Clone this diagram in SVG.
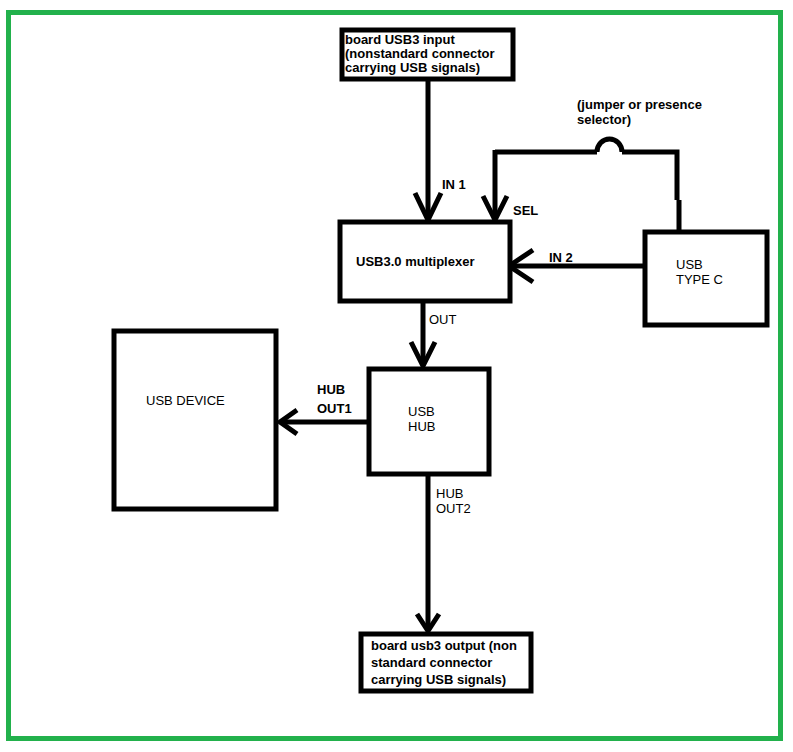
<svg xmlns="http://www.w3.org/2000/svg" width="793" height="752" viewBox="0 0 793 752">
<style>
.box{fill:#fff;stroke:#000;stroke-width:5}
.ln{fill:none;stroke:#000;stroke-width:5}
.ah{fill:none;stroke:#000;stroke-width:5;stroke-linecap:butt}
text{font-family:"Liberation Sans",Arial,sans-serif;font-size:13px;fill:#000}
.b{font-weight:bold}
</style>
<rect x="0" y="0" width="793" height="752" fill="#fff"/>
<rect x="8.5" y="12.5" width="772" height="726" fill="none" stroke="#22b14c" stroke-width="5"/>
<g id="connectors">
  <path class="ln" d="M428 80 V218"/>
  <path class="ah" d="M415 193 L428 220 L441 193"/>
  <text class="b" x="442" y="189">IN 1</text>
  <path class="ln" d="M495 152 H597 M622 152 H677 V200 M679 200 V232"/>
  <path class="ln" d="M597 152 A12.5 13 0 0 1 622 152"/>
  <path class="ln" d="M495 150 V218"/>
  <path class="ah" d="M483 196 L495 220 L507 196"/>
  <text class="b" x="513" y="215">SEL</text>
  <text class="b" x="577" y="109">(jumper or presence</text>
  <text class="b" x="577" y="124">selector)</text>
  <path class="ln" d="M645 266 H510"/>
  <path class="ah" d="M533 250 L509 266 L533 282"/>
  <text class="b" x="549" y="262">IN 2</text>
  <path class="ln" d="M423 300 V365"/>
  <path class="ah" d="M411 342 L423 366 L435 342"/>
  <text x="429" y="324">OUT</text>
  <path class="ln" d="M367 422 H280"/>
  <path class="ah" d="M297 410 L280 422 L297 434"/>
  <text class="b" x="317" y="394">HUB</text>
  <text class="b" x="317" y="413">OUT1</text>
  <path class="ln" d="M428 474 V630"/>
  <path class="ah" d="M417 614 L428 631 L439 614"/>
  <text x="436" y="498">HUB</text>
  <text x="436" y="513">OUT2</text>
</g>
<g id="input">
  <rect class="box" x="342" y="30" width="171" height="49"/>
  <text class="b" x="345" y="44">board USB3 input</text>
  <text class="b" x="345" y="58">(nonstandard connector</text>
  <text class="b" x="345" y="72">carrying USB signals)</text>
</g>
<g id="mux">
  <rect class="box" x="340" y="222" width="170" height="79"/>
  <text class="b" x="356" y="266">USB3.0 multiplexer</text>
</g>
<g id="typec">
  <rect class="box" x="645" y="232" width="122" height="93"/>
  <text x="676" y="269">USB</text>
  <text x="676" y="284">TYPE C</text>
</g>
<g id="hub">
  <rect class="box" x="369" y="369" width="120" height="105"/>
  <text x="408" y="416">USB</text>
  <text x="408" y="431">HUB</text>
</g>
<g id="device">
  <rect class="box" x="114" y="331" width="162" height="178"/>
  <text x="146" y="405">USB DEVICE</text>
</g>
<g id="output">
  <rect class="box" x="361" y="634" width="170" height="57"/>
  <text class="b" x="371" y="650">board usb3 output (non</text>
  <text class="b" x="371" y="667">standard connector</text>
  <text class="b" x="371" y="684">carrying USB signals)</text>
</g>
</svg>
